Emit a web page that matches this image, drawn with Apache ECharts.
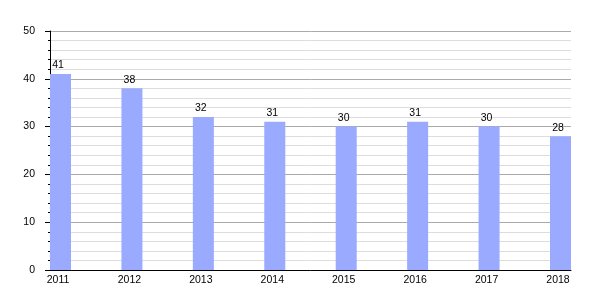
<!DOCTYPE html>
<html>
<head>
<meta charset="utf-8">
<script src="https://cdn.jsdelivr.net/npm/echarts@6/dist/echarts.min.js"></script>
<style>html,body{margin:0;padding:0;background:#fff}#c{width:600px;height:300px}</style>
</head>
<body>
<div id="c"></div>
<script>
const years = [2011, 2012, 2013, 2014, 2015, 2016, 2017, 2018];
const values = [41, 38, 32, 31, 30, 31, 30, 28];
const yTicks = [0, 10, 20, 30, 40, 50];

const chart = echarts.init(document.getElementById('c'), null, {renderer: 'canvas'});
const font = 'Liberation Sans, Arial, sans-serif';
chart.setOption({
  animation: false,
  grid: {left: 50, right: 29, top: 31, bottom: 30, containLabel: false},
  xAxis: {
    type: 'value',
    min: 2010.853,
    max: 2018.147,
    axisLine: {show: true, lineStyle: {color: '#000', width: 1}},
    axisTick: {show: false},
    splitLine: {show: false},
    axisLabel: {
      customValues: years,
      formatter: v => String(Math.round(v)),
      color: '#000', fontSize: 10.5, fontFamily: font, margin: 5,
      padding: [0, 5, 0, 0]
    }
  },
  yAxis: {
    type: 'value',
    min: 0, max: 50, interval: 10,
    axisLine: {show: true, lineStyle: {color: '#000', width: 1}},
    axisTick: {show: true, length: 5, lineStyle: {color: '#000'}},
    minorTick: {show: true, splitNumber: 5, length: 2, lineStyle: {color: '#000'}},
    splitLine: {show: true, lineStyle: {color: '#aaaaaa', width: 1}},
    minorSplitLine: {show: true, lineStyle: {color: '#dddddd', width: 1}},
    axisLabel: {
      customValues: yTicks,
      color: '#000', fontSize: 10.5, fontFamily: font, margin: 15
    }
  },
  series: [{
    type: 'bar',
    data: years.map((y, i) => [y, values[i]]),
    barWidth: 21,
    itemStyle: {color: '#99aaff'},
    label: {show: true, position: 'top', distance: 3, color: '#000', fontSize: 10.5, fontFamily: font, padding: [0, 5, 0, 0]}
  }]
});
</script>
</body>
</html>
